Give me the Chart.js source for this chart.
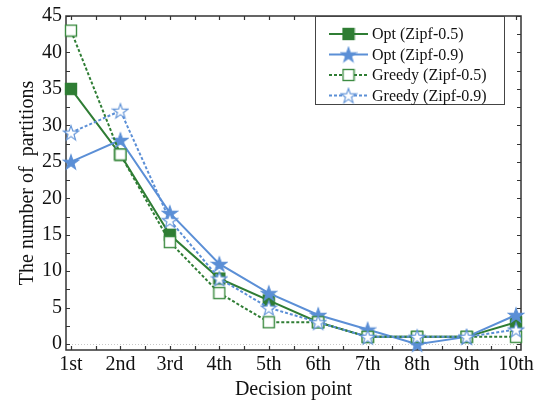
<!DOCTYPE html>
<html>
<head>
<meta charset="utf-8">
<script src="https://cdn.jsdelivr.net/npm/chart.js@4.4.1/dist/chart.umd.min.js"></script>
<style>
    html, body { margin: 0; padding: 0; background: #fff; }
    #wrap { width: 548px; height: 400px; }
</style>
</head>
<body>
<div id="wrap"><canvas id="myChart"></canvas></div>
<script>
let points = ['1st', '2nd', '3rd', '4th', '5th', '6th', '7th', '8th', '9th', '10th'];

let optZipf05 = [35, 26, 15, 9, 6, 3, 1, 1, 1, 3];
let optZipf09 = [25, 28, 18, 11, 7, 4, 2, 0, 1, 4];
let greedyZipf05 = [43, 26, 14, 7, 3, 3, 1, 1, 1, 1];
let greedyZipf09 = [29, 32, 17, 9, 5, 3, 1, 1, 1, 2];

let labels = [
    'Opt (Zipf-0.5)',
    'Opt (Zipf-0.9)',
    'Greedy (Zipf-0.5)',
    'Greedy (Zipf-0.9)'
];

let yTicks = [0, 5, 10, 15, 20, 25, 30, 35, 40, 45];

const green = '#2f7d34';
const blue = '#5b8fd6';
const serif = "'Liberation Serif', 'Times New Roman', serif";

// маркеры рисуем сами: у Chart.js нет пятиконечной звезды
function starMarker(fill, stroke) {
    const c = document.createElement('canvas');
    c.width = 18; c.height = 18;
    const g = c.getContext('2d');
    g.beginPath();
    for (let i = 0; i < 10; i++) {
        const r = i % 2 ? 3.1 : 7.8;
        const a = -Math.PI / 2 + i * Math.PI / 5;
        const px = 9 + r * Math.cos(a), py = 9.8 + r * Math.sin(a);
        if (i == 0) g.moveTo(px, py); else g.lineTo(px, py);
    }
    g.closePath();
    g.fillStyle = fill;
    g.fill();
    g.strokeStyle = stroke;
    g.lineWidth = 1.1;
    g.stroke();
    return c;
}

function squareMarker(fill, stroke) {
    const c = document.createElement('canvas');
    c.width = 14; c.height = 14;
    const g = c.getContext('2d');
    g.fillStyle = fill;
    g.fillRect(1.5, 1.5, 11, 11);
    g.strokeStyle = stroke;
    g.lineWidth = 1.4;
    g.strokeRect(1.5, 1.5, 11, 11);
    return c;
}

function toXY(values) {
    return values.map((v, i) => ({ x: i + 1, y: v }));
}

const series = [optZipf05, optZipf09, greedyZipf05, greedyZipf09];
const colors = [green, blue, green, blue];
const dashes = [[], [], [3, 2], [3, 2]];
const markers = [
    squareMarker(green, green),
    starMarker(blue, blue),
    squareMarker('#fff', '#3d8c42'),
    starMarker('#fff', blue)
];

const datasets = series.map((s, i) => ({
    label: labels[i],
    data: toXY(s),
    borderColor: colors[i],
    backgroundColor: colors[i],
    borderWidth: 2,
    borderDash: dashes[i],
    pointStyle: markers[i],
    pointRadius: 6,
    pointHoverRadius: 6,
    tension: 0,
    clip: false,
    order: 3 - i
}));

// рамка, засечки внутрь и пунктир по нулю
const framePlugin = {
    id: 'frame',
    beforeDatasetsDraw(chart) {
        const ctx = chart.ctx;
        const a = chart.chartArea;
        const xs = chart.scales.x, ys = chart.scales.y;
        ctx.save();
        const y0 = Math.round(ys.getPixelForValue(0)) + 0.5;
        ctx.strokeStyle = '#c8c8c8';
        ctx.lineWidth = 1;
        ctx.setLineDash([1, 2]);
        ctx.beginPath();
        ctx.moveTo(a.left, y0);
        ctx.lineTo(a.right, y0);
        ctx.stroke();
        ctx.setLineDash([]);

        ctx.strokeStyle = '#333';
        ctx.lineWidth = 1.5;
        ctx.strokeRect(a.left, a.top, a.right - a.left, a.bottom - a.top);
        ctx.lineWidth = 1.2;
        ctx.beginPath();
        for (let v = 1; v <= 10; v += 0.5) {
            const px = Math.round(xs.getPixelForValue(v)) + 0.5;
            ctx.moveTo(px, a.bottom); ctx.lineTo(px, a.bottom - 4);
            ctx.moveTo(px, a.top); ctx.lineTo(px, a.top + 4);
        }
        for (let v = 0; v <= 45; v += 2.5) {
            const py = Math.round(ys.getPixelForValue(v)) + 0.5;
            ctx.moveTo(a.left, py); ctx.lineTo(a.left + 4, py);
            ctx.moveTo(a.right, py); ctx.lineTo(a.right - 4, py);
        }
        ctx.stroke();
        ctx.restore();
    },
    afterDatasetsDraw(chart) {
        // легенда в рамке, линия + маркер как у серии
        const ctx = chart.ctx;
        const bx = 315, by = chart.chartArea.top, bw = 189, bh = 88;
        ctx.save();
        ctx.fillStyle = '#fff';
        ctx.fillRect(bx, by, bw, bh);
        ctx.strokeStyle = '#444';
        ctx.lineWidth = 1;
        ctx.strokeRect(bx + 0.5, by + 0.5, bw, bh);
        chart.data.datasets.forEach((ds, i) => {
            const y = by + 18 + i * 20.5;
            ctx.strokeStyle = ds.borderColor;
            ctx.lineWidth = 2;
            ctx.setLineDash(ds.borderDash);
            ctx.beginPath();
            ctx.moveTo(329, y);
            ctx.lineTo(368, y);
            ctx.stroke();
            ctx.setLineDash([]);
            const m = ds.pointStyle;
            ctx.drawImage(m, 348.5 - m.width / 2, y - m.height / 2);
            ctx.fillStyle = '#111';
            ctx.font = '16px ' + serif;
            ctx.textBaseline = 'middle';
            ctx.fillText(ds.label, 372, y + 1);
        });
        ctx.restore();
    }
};

const config = {
    type: 'line',
    data: { datasets: datasets },
    options: {
        responsive: true,
        maintainAspectRatio: false,
        animation: false,
        events: [],
        layout: { padding: { top: 12, right: 27, left: 0, bottom: 0 } },
        plugins: {
            legend: { display: false },
            tooltip: { enabled: false }
        },
        scales: {
            x: {
                type: 'linear',
                min: 0.9,
                max: 10.1,
                grid: { display: false, drawTicks: false },
                border: { display: false },
                afterBuildTicks: s => { s.ticks = points.map((p, i) => ({ value: i + 1 })); },
                afterFit: s => { s.height = 50; },
                ticks: {
                    autoSkip: false,
                    maxRotation: 0,
                    padding: 3,
                    color: '#111',
                    font: { family: serif, size: 20 },
                    callback: v => points[v - 1]
                },
                title: {
                    display: true,
                    text: 'Decision point',
                    color: '#111',
                    font: { family: serif, size: 20 },
                    padding: { top: 0, bottom: -2 }
                }
            },
            y: {
                min: -0.8,
                max: 45,
                grid: { display: false, drawTicks: false },
                border: { display: false },
                afterBuildTicks: s => { s.ticks = yTicks.map(v => ({ value: v })); },
                afterFit: s => { s.width = 66; },
                ticks: {
                    padding: 4,
                    color: '#111',
                    font: { family: serif, size: 20 }
                },
                title: {
                    display: true,
                    text: 'The number of  partitions',
                    color: '#111',
                    font: { family: serif, size: 20 },
                    padding: { top: 16, bottom: 0 }
                }
            }
        }
    },
    plugins: [framePlugin]
};

var myChart = new Chart(document.getElementById('myChart'), config);
</script>
</body>
</html>
